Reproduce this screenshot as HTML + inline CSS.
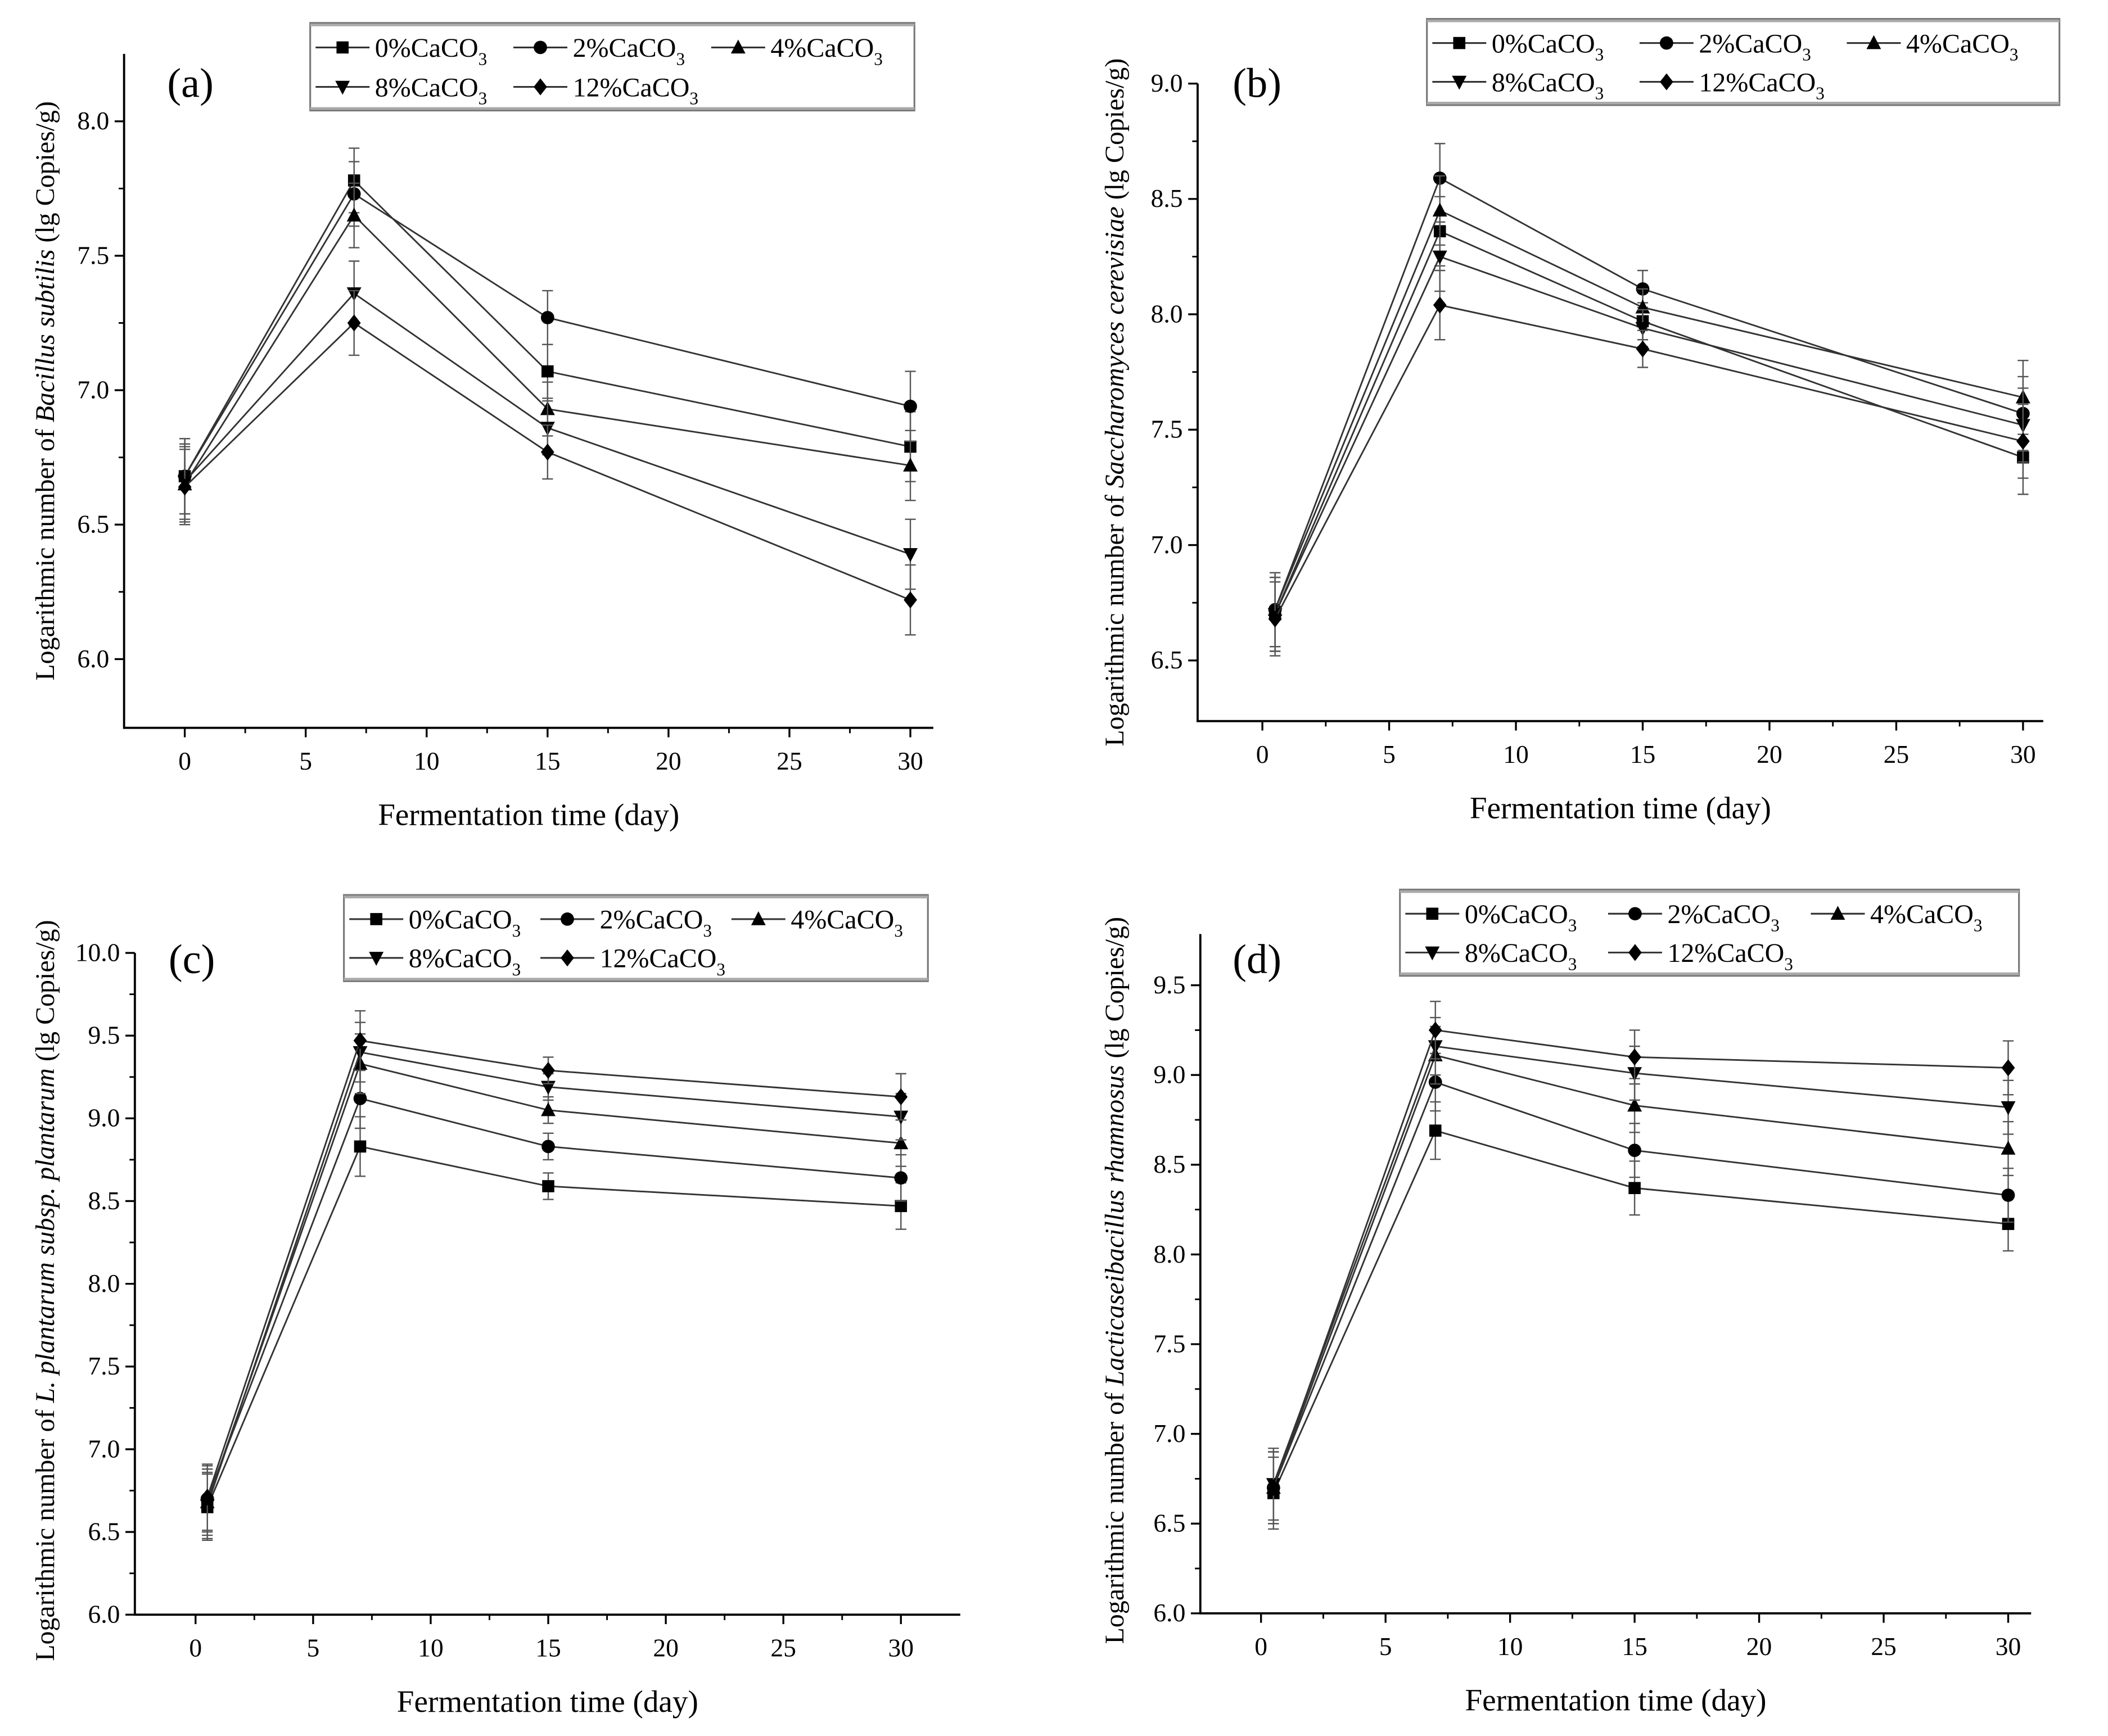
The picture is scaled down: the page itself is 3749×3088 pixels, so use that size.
<!DOCTYPE html>
<html><head><meta charset="utf-8">
<style>
html,body{margin:0;padding:0;background:#fff;}
svg{display:block;font-family:"Liberation Serif",serif;}
</style></head>
<body>
<svg id="fig" width="3749" height="3088" viewBox="0 0 1563 1288" preserveAspectRatio="none" xmlns="http://www.w3.org/2000/svg"></svg>
<script>
// ---- data ----
const seriesNames = ["0%", "2%", "4%", "8%", "12%"];
const markers = ["square", "circle", "triangle", "down", "diamond"];
const daysA = [0, 7, 15, 30];
const daysB = [0.5, 7, 15, 30];
const aValues = [[6.68,7.78,7.07,6.79],[6.68,7.73,7.27,6.94],[6.65,7.65,6.93,6.72],[6.66,7.36,6.86,6.39],[6.64,7.25,6.77,6.22]];
const aErr = [0.14,0.12,0.10,0.13];
const bValues = [[6.70,8.36,7.97,7.38],[6.72,8.59,8.11,7.57],[6.72,8.45,8.03,7.64],[6.70,8.25,7.94,7.52],[6.68,8.04,7.85,7.45]];
const bErr = [0.16,0.15,0.08,0.16];
const cValues = [[6.65,8.83,8.59,8.47],[6.70,9.12,8.83,8.64],[6.68,9.33,9.05,8.85],[6.66,9.40,9.19,9.01],[6.71,9.47,9.29,9.13]];
const cErr = [0.2,0.18,0.08,0.14];
const dValues = [[6.67,8.69,8.37,8.17],[6.70,8.96,8.58,8.33],[6.70,9.11,8.83,8.59],[6.72,9.16,9.01,8.82],[6.70,9.25,9.10,9.04]];
const dErr = [0.2,0.16,0.15,0.15];
const xTicks = [0,5,10,15,20,25,30];
const aYTicks = [6.0,6.5,7.0,7.5,8.0];
const bYTicks = [6.5,7.0,7.5,8.0,8.5,9.0];
const cYTicks = [6.0,6.5,7.0,7.5,8.0,8.5,9.0,9.5,10.0];
const dYTicks = [6.0,6.5,7.0,7.5,8.0,8.5,9.0,9.5];

const NS = "http://www.w3.org/2000/svg";
const svg = document.getElementById("fig");
function mk(tag, attrs, parent){const e=document.createElementNS(NS,tag);for(const k in attrs)e.setAttribute(k,attrs[k]);(parent||svg).appendChild(e);return e;}

function marker(g, type, x, y, s){
  let e;
  if(type==="square") e=mk("rect",{x:x-s,y:y-s,width:2*s,height:2*s,fill:"#000"},g);
  else if(type==="circle") e=mk("circle",{cx:x,cy:y,r:s*1.1,fill:"#000"},g);
  else if(type==="triangle") e=mk("polygon",{points:`${x},${y-s*1.3} ${x-s*1.2},${y+s} ${x+s*1.2},${y+s}`,fill:"#000"},g);
  else if(type==="down") e=mk("polygon",{points:`${x},${y+s*1.3} ${x-s*1.2},${y-s} ${x+s*1.2},${y-s}`,fill:"#000"},g);
  else e=mk("polygon",{points:`${x},${y-s*1.4} ${x+s*1.1},${y} ${x},${y+s*1.4} ${x-s*1.1},${y}`,fill:"#000"},g);
  return e;
}

function panel(p){
  const g=mk("g",{});
  
  
  const X=v=>p.x0px+(v-0)*(p.x30px-p.x0px)/30;
  const Y=v=>p.yLoPx+(v-p.yLo)*(p.yHiPx-p.yLoPx)/(p.yHi-p.yLo);
  const ax=mk("path",{d:`M${p.axL},${p.axTop} V${p.axB} H${p.axR}`,stroke:"#000","stroke-width":1.6,fill:"none"},g);
  
  
  p.yTicks.forEach(t=>{
    mk("line",{x1:p.axL-7,x2:p.axL,y1:Y(t),y2:Y(t),stroke:"#000","stroke-width":1.4},g);
    const tx=mk("text",{x:p.axL-11,y:Y(t)+6,"text-anchor":"end","font-size":19},g);
    tx.textContent=t.toFixed(1);
    
    
  });
  for(let i=0;i<p.yTicks.length-1;i++){const m=(p.yTicks[i]+p.yTicks[i+1])/2;mk("line",{x1:p.axL-4,x2:p.axL,y1:Y(m),y2:Y(m),stroke:"#000","stroke-width":1.2},g);}
  xTicks.forEach(t=>{
    mk("line",{x1:X(t),x2:X(t),y1:p.axB,y2:p.axB+7,stroke:"#000","stroke-width":1.4},g);
    const tx=mk("text",{x:X(t),y:p.axB+31,"text-anchor":"middle","font-size":19},g);
    tx.textContent=t;
    
    
  });
  for(let i=0;i<xTicks.length-1;i++){const m=(xTicks[i]+xTicks[i+1])/2;mk("line",{x1:X(m),x2:X(m),y1:p.axB,y2:p.axB+4,stroke:"#000","stroke-width":1.2},g);}
  const xl=mk("text",{x:(p.axL+p.axR)/2,y:p.axB+72,"text-anchor":"middle","font-size":23},g);
  xl.textContent="Fermentation time (day)";
  
  
  const yl=mk("text",{x:0,y:0,"text-anchor":"middle","font-size":20,transform:`translate(${p.ylx},${(p.axTop+p.axB)/2+p.ylOff}) rotate(-90)`},g);
  yl.innerHTML=p.ylab;
  
  
  const lab=mk("text",{x:p.labX,y:p.labY,"font-size":31},g);
  lab.textContent="("+p.id+")";
  
  
  p.values.forEach((vals,si)=>{
    const sg=mk("g",{},g);
    
    
    vals.forEach((v,i)=>{
      const x=X(p.days[i]),e=p.err[i];
      mk("path",{d:`M${x},${Y(v-e)} V${Y(v+e)} M${x-4},${Y(v-e)} H${x+4} M${x-4},${Y(v+e)} H${x+4}`,stroke:"#555","stroke-width":1},sg);
    });
    const line=mk("polyline",{points:vals.map((v,i)=>X(p.days[i])+","+Y(v)).join(" "),fill:"none",stroke:"#333","stroke-width":1.2},sg);
    
    
    vals.forEach((v,i)=>{
      const m=marker(sg,markers[si],X(p.days[i]),Y(v),4.5);
      
      
    });
  });
  const L=p.leg;
  const lg=mk("g",{},g);
  
  
  mk("rect",{x:L.x,y:L.y,width:L.w,height:L.h,fill:"#fff",stroke:"#777","stroke-width":1.3},lg);
  mk("line",{x1:L.x,x2:L.x+L.w,y1:L.y+1.5,y2:L.y+1.5,stroke:"#aaa","stroke-width":2},lg);
  mk("line",{x1:L.x,x2:L.x+L.w,y1:L.y+L.h-1.5,y2:L.y+L.h-1.5,stroke:"#aaa","stroke-width":2},lg);
  const colW=(L.w-8)/3;
  seriesNames.forEach((n,si)=>{
    const col=si%3,row=Math.floor(si/3);
    const lx=L.x+4+col*colW,ly=L.y+L.h*0.28+row*L.h*0.45;
    const eg=mk("g",{},lg);
    
    
    mk("line",{x1:lx,x2:lx+40,y1:ly,y2:ly,stroke:"#333","stroke-width":1.3},eg);
    marker(eg,markers[si],lx+20,ly,4.5);
    const t=mk("text",{x:lx+44,y:ly+7,"font-size":20},eg);
    t.innerHTML=n+'CaCO<tspan font-size="13" dy="6">3</tspan>';
  });
}

panel({id:"a",values:aValues,err:aErr,days:daysA,yTicks:aYTicks,
  x0px:137,x30px:675,yLo:6.0,yLoPx:489,yHi:8.0,yHiPx:90,
  axL:92,axR:692,axTop:40,axB:540,ylx:40,ylOff:0,
  ylab:'Logarithmic number of <tspan font-style="italic">Bacillus subtilis</tspan> (lg Copies/g)',
  labX:124,labY:72,leg:{x:230,y:17,w:448,h:65}});
panel({id:"b",values:bValues,err:bErr,days:daysB,yTicks:bYTicks,
  x0px:936,x30px:1500,yLo:6.5,yLoPx:490,yHi:9.0,yHiPx:62,
  axL:888,axR:1515,axTop:62,axB:535,ylx:833,ylOff:0,
  ylab:'Logarithmic number of <tspan font-style="italic">Saccharomyces cerevisiae</tspan> (lg Copies/g)',
  labX:914,labY:72,leg:{x:1058,y:14,w:469,h:64}});
panel({id:"c",values:cValues,err:cErr,days:daysB,yTicks:cYTicks,
  x0px:145,x30px:668,yLo:6.0,yLoPx:1198,yHi:10.0,yHiPx:707,
  axL:100,axR:712,axTop:707,axB:1198,ylx:40,ylOff:5,
  ylab:'Logarithmic number of <tspan font-style="italic">L. plantarum subsp. plantarum</tspan> (lg Copies/g)',
  labX:125,labY:722,leg:{x:255,y:664,w:433,h:64}});
panel({id:"d",values:dValues,err:dErr,days:daysB,yTicks:dYTicks,
  x0px:935,x30px:1489,yLo:6.0,yLoPx:1197,yHi:9.5,yHiPx:731,
  axL:890,axR:1506,axTop:693,axB:1197,ylx:833,ylOff:5,
  ylab:'Logarithmic number of <tspan font-style="italic">Lacticaseibacillus rhamnosus</tspan> (lg Copies/g)',
  labX:914,labY:722,leg:{x:1038,y:660,w:459,h:64}});
</script>
</body></html>
